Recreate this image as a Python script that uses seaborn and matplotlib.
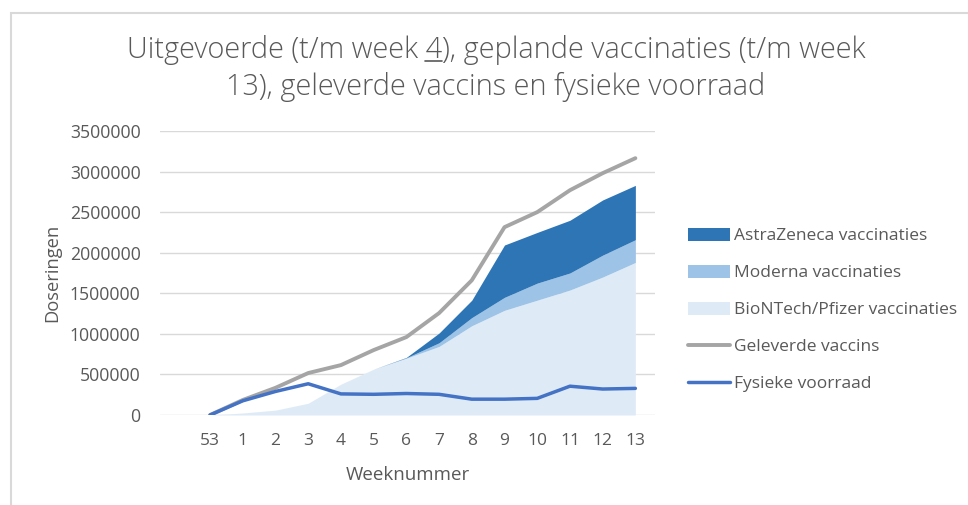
import numpy as np
import pandas as pd
import matplotlib
matplotlib.use('Agg')
import matplotlib.pyplot as plt
import seaborn as sns
from matplotlib.patches import Patch, Rectangle
from matplotlib.lines import Line2D

# Data
weeks = ['53', '1', '2', '3', '4', '5', '6', '7', '8', '9', '10', '11', '12', '13']
pfizer = [0, 25000, 60000, 145000, 380000, 565000, 700000, 845000, 1100000,
          1290000, 1415000, 1540000, 1700000, 1880000]
moderna = [0, 0, 0, 0, 0, 0, 5000, 45000, 100000, 160000, 210000, 210000, 270000, 280000]
astrazeneca = [0, 0, 0, 0, 0, 0, 5000, 120000, 215000, 645000, 625000, 650000, 680000, 670000]
geleverd = [0, 185000, 335000, 517000, 615000, 800000, 960000, 1256000, 1660000,
            2315000, 2500000, 2770000, 2980000, 3165000]
voorraad = [0, 175000, 290000, 385000, 260000, 255000, 265000, 255000, 195000,
            195000, 205000, 355000, 320000, 328000]

title_line1 = 'Uitgevoerde (t/m week 4), geplande vaccinaties (t/m week'
title_line2 = '13), geleverde vaccins en fysieke voorraad'

c_az = '#2e75b6'
c_mod = '#9dc3e6'
c_pf = '#deebf7'
c_gray = '#a5a5a5'
c_blue = '#4472c4'
c_text = '#595959'

sns.set_theme(style='white')
plt.rcParams['font.family'] = ['Open Sans', 'DejaVu Sans']

fig = plt.figure(figsize=(9.68, 5.05), dpi=100)
ax = fig.add_axes([160 / 968, 1 - 415 / 505, 495 / 968, 284 / 505])

x = np.arange(len(weeks))
df = pd.DataFrame({'week': x, 'Geleverde vaccins': geleverd, 'Fysieke voorraad': voorraad})

# gestapelde vlakken
ax.stackplot(x, pfizer, moderna, astrazeneca, colors=[c_pf, c_mod, c_az], linewidth=0, zorder=2)

# lijnen
sns.lineplot(data=df, x='week', y='Geleverde vaccins', color=c_gray, lw=2.8, ax=ax, zorder=3)
sns.lineplot(data=df, x='week', y='Fysieke voorraad', color=c_blue, lw=2.5, ax=ax, zorder=4)

ax.set_xlim(-1.53, 13.6)
ax.set_ylim(0, 3500000)
ax.set_yticks(np.arange(0, 3500001, 500000))
ax.set_yticklabels([str(v) for v in range(0, 3500001, 500000)])
ax.set_xticks(x)
ax.set_xticklabels(weeks)
for s in ax.spines.values():
    s.set_visible(False)
ax.grid(axis='y', color='#d9d9d9', lw=1.0, zorder=0)
ax.set_axisbelow(True)
ax.tick_params(axis='y', length=0, pad=14, labelsize=12.7, labelcolor=c_text)
ax.tick_params(axis='x', length=0, pad=13, labelsize=12.5, labelcolor=c_text)
ax.set_xlabel('Weeknummer', fontsize=13.5, color=c_text, labelpad=12)
ax.set_ylabel('Doseringen', fontsize=13.2, color=c_text, labelpad=6)

# legenda
handles = [Patch(facecolor=c_az, edgecolor='none'),
           Patch(facecolor=c_mod, edgecolor='none'),
           Patch(facecolor=c_pf, edgecolor='none'),
           Line2D([], [], color=c_gray, lw=2.8),
           Line2D([], [], color=c_blue, lw=2.5)]
labels = ['AstraZeneca vaccinaties', 'Moderna vaccinaties', 'BioNTech/Pfizer vaccinaties',
          'Geleverde vaccins', 'Fysieke voorraad']
leg = fig.legend(handles, labels, loc='center left', bbox_to_anchor=(688 / 968, 1 - 310 / 505),
                 frameon=False, fontsize=12.5, handlelength=2.4, handleheight=0.75,
                 handletextpad=0.25, labelspacing=1.18, borderpad=0, borderaxespad=0)
for t in leg.get_texts():
    t.set_color(c_text)

# titel
fs_title = 20.8
cx = 496 / 968
t1 = fig.text(cx, 1 - 58 / 505, title_line1, ha='center', va='baseline',
              fontsize=fs_title, color=c_text, fontweight='light')
t2 = fig.text(cx, 1 - 95 / 505, title_line2, ha='center', va='baseline',
              fontsize=fs_title, color=c_text, fontweight='light')

# onderstreping van "4"
r = fig.canvas.get_renderer()
w_full = t1.get_window_extent(r)
tmp = fig.text(0, 0, title_line1[:title_line1.index('4') + 1], fontsize=fs_title, fontweight='light')
tmp4 = fig.text(0, 0, '4', fontsize=fs_title, fontweight='light')
w_pre = tmp.get_window_extent(r).width
w4 = tmp4.get_window_extent(r).width
tmp.remove()
tmp4.remove()
x_end = w_full.x0 + w_pre
y_ul = (1 - 58 / 505) * fig.bbox.height - 3
fig.add_artist(Line2D([(x_end - w4) / fig.bbox.width, x_end / fig.bbox.width],
                      [y_ul / fig.bbox.height] * 2, color=c_text, lw=1.2,
                      transform=fig.transFigure))

# kader rond de grafiek
fig.patches.append(Rectangle((11 / 968, -0.1), 1.2, 1 - 13 / 505 + 0.1, fill=False,
                             edgecolor='#d9d9d9', lw=1.5, transform=fig.transFigure))

fig.savefig('out.png', dpi=100)
